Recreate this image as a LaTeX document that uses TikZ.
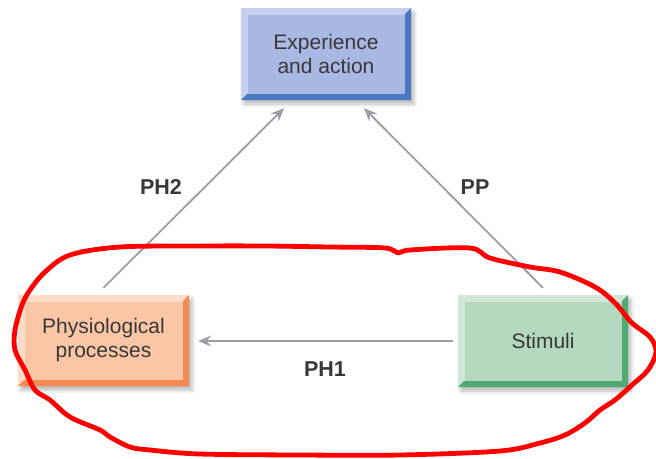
\documentclass[tikz,border=0pt]{standalone}
\usepackage{fontspec}
\setmainfont{Liberation Sans}
\usetikzlibrary{arrows.meta,shadows.blur}

\definecolor{txt}{HTML}{383838}
\definecolor{arrowgray}{HTML}{9A9DA3}
% blue box
\definecolor{blueface}{HTML}{A9B8E2}
\definecolor{bluelight}{HTML}{C6D0EE}
\definecolor{bluedark}{HTML}{4A78C2}
% orange box
\definecolor{orangeface}{HTML}{FBC6A6}
\definecolor{orangelight}{HTML}{FDDCC8}
\definecolor{orangedark}{HTML}{F6894F}
% green box
\definecolor{greenface}{HTML}{B3D8BE}
\definecolor{greenlight}{HTML}{D0E7D7}
\definecolor{greendark}{HTML}{4FAA72}
\definecolor{loopred}{HTML}{FF0000}

\tikzset{
  % bevelled box: #1 light edge, #2 dark edge, #3 face
  bevelbox/.style n args={3}{
    rectangle, draw=none, fill=#1, inner sep=0pt,
    text=txt, align=center,
    font=\fontsize{21}{24}\selectfont,
    blur shadow={shadow xshift=3pt, shadow yshift=-4pt,
      shadow blur radius=4pt, shadow opacity=28},
    path picture={
      \fill[#2] (path picture bounding box.south west)
        -- (path picture bounding box.south east)
        -- (path picture bounding box.north east)
        -- ([xshift=-6pt,yshift=-6pt]path picture bounding box.north east)
        -- ([xshift=-6pt,yshift=6pt]path picture bounding box.south east)
        -- ([xshift=6pt,yshift=6pt]path picture bounding box.south west)
        -- cycle;
      \fill[#3] ([xshift=7pt,yshift=-7pt]path picture bounding box.north west)
        rectangle ([xshift=-6pt,yshift=6pt]path picture bounding box.south east);
    }
  },
  link/.style={draw=arrowgray, line width=1.8pt,
    -{Stealth[length=13pt,width=11pt,inset=4.5pt]}},
  linklabel/.style={text=txt, font=\fontsize{21.5}{24}\selectfont\bfseries},
  loop/.style={draw=loopred, line width=4.8pt, line cap=round, line join=round}
}

\begin{document}
\begin{tikzpicture}[x=1pt,y=-1pt]
  \useasboundingbox (0,0) rectangle (656,458);

  \node[bevelbox={bluelight}{bluedark}{blueface},
        minimum width=170pt, minimum height=92pt]
    (exp) at (326,54) {Experience\\and action};
  \node[bevelbox={orangelight}{orangedark}{orangeface},
        minimum width=171pt, minimum height=91pt]
    (phys) at (103.5,340.5) {Physiological\\processes};
  \node[bevelbox={greenlight}{greendark}{greenface},
        minimum width=170pt, minimum height=92pt]
    (stim) at (543,341) {Stimuli};

  % causal links
  \draw[link] ([yshift=7pt]phys.north) -- ([xshift=-42pt,yshift=-8pt]exp.south);
  \draw[link] ([yshift=7pt]stim.north) -- ([xshift=38pt,yshift=-8pt]exp.south);
  \draw[link] ([xshift=-5pt]stim.west) -- ([xshift=9pt]stim.west -| phys.east);

  \node[linklabel] (lph2) at (161,187) {PH2};
  \node[linklabel] (lpp)  at (475,187) {PP};
  \node[linklabel] (lph1) at (325,369) {PH1};

  % hand-drawn loop around the lower pair
  \draw[loop] plot[smooth cycle, tension=0.55] coordinates {
    (120,247) (200,246) (265,246) (330,247) (385,248) (398,253) (410,250)
    (470,248) (490,258) (530,267) (560,272) (595,287) (615,303) (632,323)
    (650,337) (656,352) (648,370) (632,385) (615,400) (600,410) (585,423)
    (565,435) (540,443) (500,451) (400,455) (300,455) (200,454) (150,450)
    (130,447) (110,437) (100,430) (70,417) (50,400) (35,390) (25,370)
    (15,350) (15,330) (22,305) (30,290) (45,272) (70,255)};
\end{tikzpicture}
\end{document}
